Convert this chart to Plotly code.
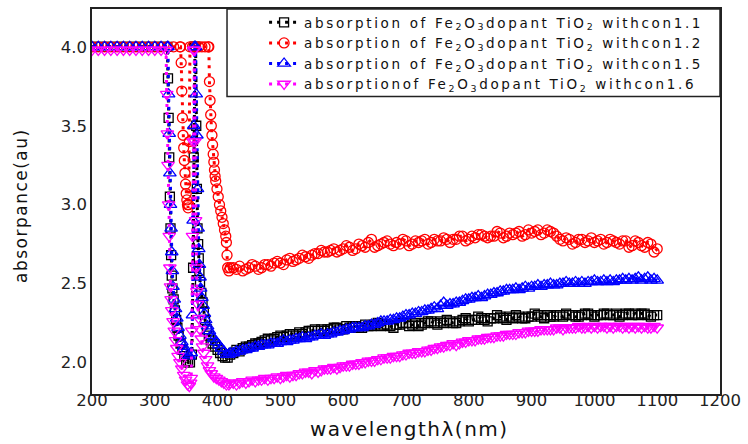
import plotly.graph_objects as go

# Absorbance spectra of Fe2O3-doped TiO2 at four concentrations.
# Short-wavelength part (saturated region and absorption edges), sampled finely.
EDGE_WL_11 = [200, 210, 220, 230, 240, 250, 260, 270, 280, 290, 300, 310, 320,
              321, 322, 323, 324, 325, 326, 327, 328,
              330, 332, 334, 336, 338,
              341, 344, 347, 350, 353, 356, 359,
              361, 362, 363, 364, 365, 366, 367, 368, 369, 370, 371, 372,
              374, 376, 378, 380,
              383, 386, 389, 392,
              396, 400, 404, 408, 412, 416, 420]
EDGE_ABS_11 = [4.0, 4.0, 4.0, 4.0, 4.0, 4.0, 4.0, 4.0, 4.0, 4.0, 4.0, 4.0, 4.0,
               3.8, 3.55, 3.3, 3.05, 2.85, 2.68, 2.55, 2.47,
               2.4, 2.33, 2.27, 2.22, 2.17,
               2.12, 2.08, 2.04, 2.01, 2.0, 2.0, 2.05,
               2.6, 3.3, 4.0, 4.0, 4.0, 3.5, 3.1, 2.85, 2.75, 2.66, 2.58, 2.51,
               2.44, 2.38, 2.32, 2.27,
               2.21, 2.17, 2.14, 2.12,
               2.1, 2.08, 2.06, 2.04, 2.03, 2.03, 2.05]

EDGE_WL_12 = [200, 210, 220, 230, 240, 250, 260, 270, 280, 290, 300, 310, 320, 330, 340,
              341, 342, 343, 344, 345, 346, 347, 348, 349, 350, 351, 352, 353, 354, 355, 356,
              360, 365, 370, 375, 380, 385,
              386, 387, 388, 389, 390, 391, 392, 393, 394, 395, 396, 397,
              399, 401, 403, 405, 407, 409, 411, 413, 414, 415, 416, 418, 420]
EDGE_ABS_12 = [4.0, 4.0, 4.0, 4.0, 4.0, 4.0, 4.0, 4.0, 4.0, 4.0, 4.0, 4.0, 4.0, 4.0, 4.0,
               4.0, 3.9, 3.72, 3.55, 3.44, 3.36, 3.28, 3.2, 3.13, 3.07, 3.03, 3.0, 2.98, 3.0, 3.4, 4.0,
               4.0, 4.0, 4.0, 4.0, 4.0, 4.0,
               4.0, 3.78, 3.66, 3.57, 3.5, 3.44, 3.38, 3.32, 3.27, 3.22, 3.18, 3.15,
               3.1, 3.05, 3.0, 2.96, 2.92, 2.88, 2.84, 2.8, 2.76, 2.68, 2.6, 2.58, 2.6]

EDGE_WL_15 = [200, 210, 220, 230, 240, 250, 260, 270, 280, 290, 300, 310, 320,
              321, 322, 323, 324, 325, 326, 327, 328, 329,
              331, 333, 335, 337,
              340, 343, 346, 349, 352, 355, 358,
              360, 361, 362, 363, 364, 365, 366, 367, 368, 369, 370, 371, 372, 373,
              375, 377, 379, 381,
              384, 387, 390,
              394, 398, 402, 406, 410, 414, 418, 420]
EDGE_ABS_15 = [4.0, 4.0, 4.0, 4.0, 4.0, 4.0, 4.0, 4.0, 4.0, 4.0, 4.0, 4.0, 4.0,
               4.0, 3.7, 3.45, 3.2, 3.0, 2.85, 2.7, 2.58, 2.48,
               2.4, 2.34, 2.28, 2.22,
               2.17, 2.13, 2.1, 2.07, 2.05, 2.04, 2.06,
               2.3, 2.9, 3.5, 4.0, 4.0, 4.0, 3.7, 3.44, 3.1, 2.85, 2.72, 2.62, 2.54, 2.47,
               2.41, 2.36, 2.31, 2.27,
               2.23, 2.2, 2.17,
               2.15, 2.13, 2.11, 2.09, 2.07, 2.05, 2.05, 2.06]

EDGE_WL_16 = [200, 210, 220, 230, 240, 250, 260, 270, 280, 290, 300, 310,
              318,
              319, 320, 321, 322, 323, 324, 325, 326, 327,
              329, 331, 333, 335, 337,
              340, 343, 346, 349, 352, 355, 357,
              358, 359, 360, 361, 362, 363, 364, 365, 366, 367, 368,
              370, 372, 374, 376, 378,
              381, 384, 387, 390,
              394, 398, 402, 406, 410, 414, 418, 420]
EDGE_ABS_16 = [3.98, 3.98, 3.98, 3.98, 3.98, 3.98, 3.98, 3.98, 3.98, 3.98, 3.98, 3.98,
               3.98,
               3.7, 3.45, 3.25, 3.0, 2.8, 2.6, 2.48, 2.4, 2.33,
               2.26, 2.2, 2.14, 2.09, 2.04,
               2.0, 1.96, 1.92, 1.89, 1.86, 1.85, 1.87,
               1.9, 2.2, 2.8, 3.4, 3.98, 3.98, 3.4, 2.9, 2.6, 2.45, 2.37,
               2.28, 2.21, 2.15, 2.1, 2.06,
               2.02, 1.98, 1.95, 1.93,
               1.91, 1.9, 1.89, 1.88, 1.87, 1.86, 1.86, 1.87]

# Visible / near-IR part, every 5 nm from 425 to 1100 nm.
LONG_WL = [425, 430, 435, 440, 445, 450, 455, 460, 465, 470,
           475, 480, 485, 490, 495, 500, 505, 510, 515, 520,
           525, 530, 535, 540, 545, 550, 555, 560, 565, 570,
           575, 580, 585, 590, 595, 600, 605, 610, 615, 620,
           625, 630, 635, 640, 645, 650, 655, 660, 665, 670,
           675, 680, 685, 690, 695, 700, 705, 710, 715, 720,
           725, 730, 735, 740, 745, 750, 755, 760, 765, 770,
           775, 780, 785, 790, 795, 800, 805, 810, 815, 820,
           825, 830, 835, 840, 845, 850, 855, 860, 865, 870,
           875, 880, 885, 890, 895, 900, 905, 910, 915, 920,
           925, 930, 935, 940, 945, 950, 955, 960, 965, 970,
           975, 980, 985, 990, 995, 1000, 1005, 1010, 1015, 1020,
           1025, 1030, 1035, 1040, 1045, 1050, 1055, 1060, 1065, 1070,
           1075, 1080, 1085, 1090, 1095, 1100]

LONG_ABS_11 = [2.06, 2.08, 2.07, 2.09, 2.10, 2.10, 2.11, 2.12, 2.12, 2.13,
               2.14, 2.15, 2.14, 2.15, 2.16, 2.17, 2.16, 2.17, 2.18, 2.18,
               2.17, 2.19, 2.18, 2.19, 2.20, 2.20, 2.21, 2.20, 2.21, 2.20,
               2.21, 2.21, 2.22, 2.22, 2.21, 2.21, 2.23, 2.22, 2.23, 2.23,
               2.22, 2.22, 2.24, 2.23, 2.23, 2.24, 2.25, 2.23, 2.24, 2.24,
               2.23, 2.22, 2.24, 2.24, 2.25, 2.25, 2.23, 2.24, 2.25, 2.23,
               2.24, 2.25, 2.26, 2.26, 2.25, 2.24, 2.26, 2.25, 2.27, 2.26,
               2.25, 2.25, 2.26, 2.27, 2.28, 2.26, 2.27, 2.27, 2.29, 2.28,
               2.27, 2.26, 2.28, 2.28, 2.30, 2.29, 2.28, 2.27, 2.29, 2.28,
               2.30, 2.29, 2.28, 2.28, 2.29, 2.29, 2.31, 2.30, 2.29, 2.28,
               2.30, 2.29, 2.29, 2.30, 2.30, 2.29, 2.31, 2.30, 2.30, 2.29,
               2.29, 2.30, 2.31, 2.31, 2.30, 2.29, 2.30, 2.30, 2.31, 2.31,
               2.30, 2.30, 2.31, 2.29, 2.30, 2.31, 2.31, 2.30, 2.31, 2.30,
               2.31, 2.31, 2.30, 2.29, 2.30, 2.30]

LONG_ABS_12 = [2.60, 2.59, 2.61, 2.58, 2.59, 2.60, 2.62, 2.61, 2.59, 2.60,
               2.62, 2.62, 2.61, 2.63, 2.64, 2.63, 2.62, 2.65, 2.66, 2.64,
               2.65, 2.66, 2.68, 2.67, 2.66, 2.68, 2.69, 2.69, 2.71, 2.70,
               2.70, 2.71, 2.72, 2.70, 2.71, 2.72, 2.74, 2.73, 2.71, 2.72,
               2.75, 2.74, 2.73, 2.76, 2.78, 2.73, 2.74, 2.75, 2.76, 2.77,
               2.75, 2.74, 2.76, 2.75, 2.78, 2.77, 2.74, 2.75, 2.77, 2.76,
               2.77, 2.78, 2.75, 2.76, 2.78, 2.77, 2.77, 2.79, 2.78, 2.76,
               2.78, 2.78, 2.80, 2.80, 2.77, 2.78, 2.80, 2.79, 2.81, 2.81,
               2.80, 2.79, 2.80, 2.80, 2.83, 2.82, 2.79, 2.80, 2.82, 2.81,
               2.82, 2.83, 2.80, 2.81, 2.84, 2.82, 2.83, 2.84, 2.81, 2.82,
               2.84, 2.83, 2.82, 2.80, 2.78, 2.77, 2.79, 2.78, 2.75, 2.76,
               2.78, 2.78, 2.76, 2.77, 2.79, 2.76, 2.77, 2.78, 2.75, 2.76,
               2.78, 2.77, 2.76, 2.75, 2.77, 2.77, 2.73, 2.74, 2.77, 2.76,
               2.74, 2.73, 2.76, 2.75, 2.70, 2.72]

LONG_ABS_15 = [2.06, 2.07, 2.07, 2.08, 2.08, 2.09, 2.09, 2.10, 2.10, 2.11,
               2.11, 2.11, 2.12, 2.12, 2.12, 2.13, 2.14, 2.13, 2.14, 2.14,
               2.15, 2.15, 2.16, 2.15, 2.16, 2.16, 2.17, 2.17, 2.18, 2.17,
               2.18, 2.18, 2.19, 2.19, 2.20, 2.20, 2.21, 2.21, 2.22, 2.22,
               2.22, 2.22, 2.23, 2.23, 2.24, 2.24, 2.25, 2.26, 2.26, 2.26,
               2.27, 2.27, 2.28, 2.28, 2.29, 2.30, 2.30, 2.31, 2.31, 2.32,
               2.32, 2.33, 2.33, 2.34, 2.35, 2.34, 2.36, 2.38, 2.36, 2.37,
               2.37, 2.38, 2.38, 2.39, 2.40, 2.40, 2.41, 2.41, 2.42, 2.41,
               2.42, 2.43, 2.43, 2.44, 2.44, 2.45, 2.45, 2.46, 2.46, 2.46,
               2.47, 2.46, 2.47, 2.48, 2.47, 2.48, 2.48, 2.49, 2.48, 2.49,
               2.49, 2.50, 2.49, 2.49, 2.50, 2.50, 2.51, 2.50, 2.50, 2.51,
               2.50, 2.51, 2.50, 2.51, 2.51, 2.52, 2.51, 2.51, 2.52, 2.51,
               2.52, 2.51, 2.52, 2.52, 2.53, 2.52, 2.53, 2.52, 2.53, 2.54,
               2.52, 2.53, 2.54, 2.52, 2.53, 2.52]

LONG_ABS_16 = [1.87, 1.86, 1.87, 1.88, 1.87, 1.88, 1.89, 1.88, 1.89, 1.89,
               1.90, 1.89, 1.90, 1.90, 1.91, 1.90, 1.91, 1.92, 1.91, 1.92,
               1.92, 1.93, 1.93, 1.94, 1.94, 1.93, 1.95, 1.94, 1.95, 1.96,
               1.96, 1.96, 1.97, 1.96, 1.97, 1.98, 1.98, 1.98, 1.99, 1.99,
               1.99, 2.00, 2.00, 2.01, 2.01, 2.01, 2.02, 2.02, 2.03, 2.03,
               2.03, 2.04, 2.04, 2.04, 2.05, 2.05, 2.06, 2.06, 2.06, 2.07,
               2.07, 2.07, 2.08, 2.08, 2.09, 2.09, 2.10, 2.10, 2.11, 2.11,
               2.12, 2.11, 2.12, 2.13, 2.13, 2.14, 2.14, 2.14, 2.15, 2.15,
               2.15, 2.16, 2.16, 2.16, 2.17, 2.17, 2.17, 2.18, 2.18, 2.18,
               2.18, 2.19, 2.19, 2.19, 2.20, 2.20, 2.20, 2.20, 2.21, 2.21,
               2.21, 2.21, 2.21, 2.22, 2.22, 2.21, 2.22, 2.22, 2.22, 2.22,
               2.23, 2.22, 2.22, 2.23, 2.22, 2.23, 2.22, 2.23, 2.23, 2.22,
               2.23, 2.22, 2.23, 2.23, 2.22, 2.23, 2.22, 2.23, 2.22, 2.23,
               2.22, 2.23, 2.22, 2.22, 2.23, 2.22]

LEGEND_TEXT = [
    "absorption of Fe<sub>2</sub>O<sub>3</sub>dopant TiO<sub>2</sub> withcon1.1",
    "absorption of Fe<sub>2</sub>O<sub>3</sub>dopant TiO<sub>2</sub> withcon1.2",
    "absorption of Fe<sub>2</sub>O<sub>3</sub>dopant TiO<sub>2</sub> withcon1.5",
    "absorptionof Fe<sub>2</sub>O<sub>3</sub>dopant TiO<sub>2</sub> withcon1.6",
]
X_TICKS = [200, 300, 400, 500, 600, 700, 800, 900, 1000, 1100, 1200]
Y_TICKS = [2.0, 2.5, 3.0, 3.5, 4.0]


def spaced(text, px):
    """Wrap a label so it is drawn with extra letter spacing."""
    return '<span style="letter-spacing:%spx">%s</span>' % (px, text)


series = [
    (LEGEND_TEXT[0], EDGE_WL_11 + LONG_WL, EDGE_ABS_11 + LONG_ABS_11, "#000000", "square-open", 9),
    (LEGEND_TEXT[1], EDGE_WL_12 + LONG_WL, EDGE_ABS_12 + LONG_ABS_12, "#ff0000", "circle-open", 10),
    (LEGEND_TEXT[2], EDGE_WL_15 + LONG_WL, EDGE_ABS_15 + LONG_ABS_15, "#0000ff", "triangle-up-open", 11),
    (LEGEND_TEXT[3], EDGE_WL_16 + LONG_WL, EDGE_ABS_16 + LONG_ABS_16, "#ff00ff", "triangle-down-open", 11),
]

FONT = "DejaVu Sans"

fig = go.Figure()
for name, wl, ab, color, symbol, size in series:
    fig.add_trace(go.Scatter(
        x=wl, y=ab, mode="lines+markers",
        name=spaced(name, 2.65),
        line=dict(color=color, width=3, dash="3px,5px"),
        marker=dict(symbol=symbol, size=size, color=color,
                    line=dict(color=color, width=1.3)),
    ))

fig.update_layout(
    width=748, height=444,
    margin=dict(l=92, r=23, t=7, b=50),
    paper_bgcolor="white", plot_bgcolor="white",
    font=dict(family=FONT, color="#222222"),
    showlegend=True,
    legend=dict(
        x=0.274, y=1.005, xanchor="left", yanchor="top",
        bgcolor="rgba(0,0,0,0)", borderwidth=0,
        font=dict(family=FONT, size=13.5, color="#111111"),
        tracegroupgap=0,
    ),
    shapes=[dict(type="rect", xref="paper", yref="paper",
                 x0=0.215, x1=1.0, y0=0.773, y1=1.0,
                 line=dict(color="#222222", width=1.5))],
    annotations=[
        dict(text=spaced("wavelengthλ(nm)", 1.5), xref="paper", yref="paper",
             x=0.505, y=-0.09, xanchor="center", yanchor="middle",
             showarrow=False, font=dict(family=FONT, size=20, color="#111111")),
        dict(text=spaced("absorpance(au)", 1.5), xref="paper", yref="paper",
             x=-0.112, y=0.49, xanchor="center", yanchor="middle", textangle=-90,
             showarrow=False, font=dict(family=FONT, size=17, color="#111111")),
    ],
)

fig.update_xaxes(
    range=[200, 1200], tickvals=X_TICKS, ticks="", showgrid=False, zeroline=False,
    showline=True, linecolor="#222222", linewidth=1.5, mirror=True,
    ticklabelstandoff=-10,
    tickfont=dict(family=FONT, size=16.5, color="#222222"),
)
fig.update_yaxes(
    range=[1.80, 4.24], tickvals=Y_TICKS, tickformat=".1f", ticks="",
    showgrid=False, zeroline=False,
    showline=True, linecolor="#222222", linewidth=1.5, mirror=True,
    tickfont=dict(family=FONT, size=16.5, color="#222222"),
)

fig.write_html("out.html")
